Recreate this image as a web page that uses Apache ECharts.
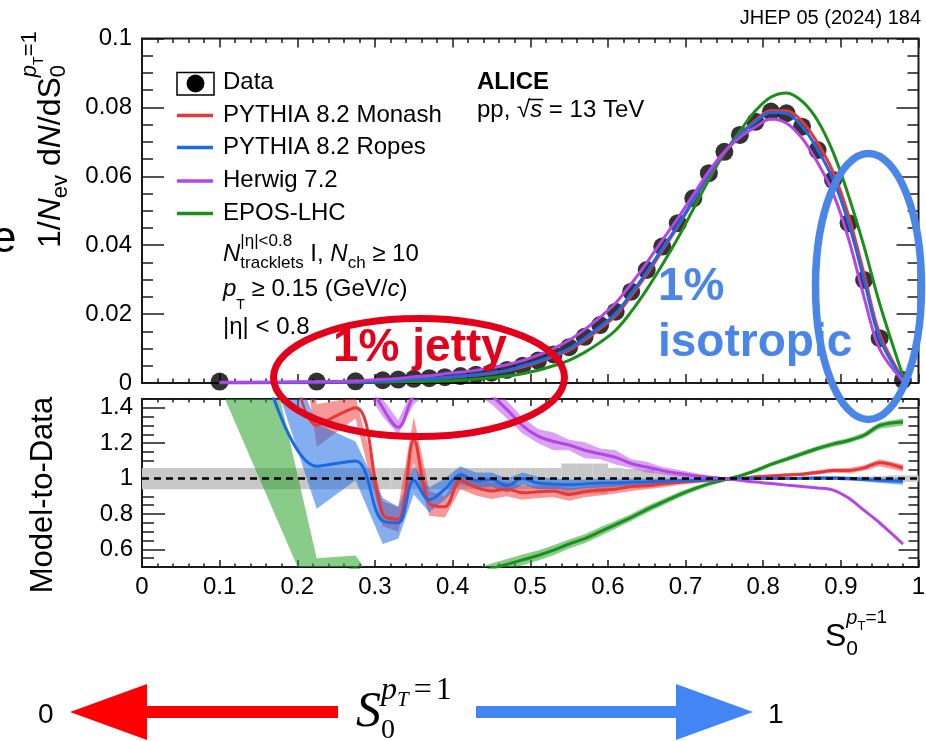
<!DOCTYPE html>
<html>
<head>
<meta charset="utf-8">
<script src="https://cdn.jsdelivr.net/npm/echarts@6/dist/echarts.min.js"></script>
<style>
  html, body { margin: 0; padding: 0; background: #fff; }
  #chart { width: 926px; height: 741px; }
</style>
</head>
<body>
<div id="chart"></div>
<script>
// ---- S0 binning ----
const S0 = [0.1, 0.225, 0.275, 0.31, 0.33, 0.35, 0.37, 0.39, 0.41, 0.43, 0.45, 0.47, 0.49, 0.51, 0.53, 0.55,
  0.57, 0.59, 0.61, 0.63, 0.65, 0.67, 0.69, 0.71, 0.73, 0.75, 0.77, 0.79, 0.81, 0.83, 0.85, 0.87, 0.89,
  0.91, 0.93, 0.95, 0.98];
const binEdges = [0, 0.2, 0.25, 0.3, 0.32, 0.34, 0.36, 0.38, 0.40, 0.42, 0.44, 0.46, 0.48, 0.50, 0.52, 0.54,
  0.56, 0.58, 0.60, 0.62, 0.64, 0.66, 0.68, 0.70, 0.72, 0.74, 0.76, 0.78, 0.80, 0.82, 0.84, 0.86, 0.88,
  0.90, 0.92, 0.94, 0.96, 1.0];

// ---- upper panel: 1/Nev dN/dS0 ----
const dataY = [0.0004, 0.0004, 0.0005, 0.0008, 0.0010, 0.0012, 0.0014, 0.0017, 0.0020, 0.0024, 0.0030, 0.0038,
  0.0050, 0.0065, 0.0083, 0.0104, 0.0134, 0.0168, 0.0207, 0.0265, 0.0328, 0.0396, 0.0464, 0.0536, 0.0609,
  0.0671, 0.0720, 0.0758, 0.0788, 0.0783, 0.0744, 0.0676, 0.0589, 0.0464, 0.0299, 0.0130, 0.0009];
const monashY = [0.0001, 0.0002, 0.0003, 0.0006, 0.0008, 0.0012, 0.0013, 0.0015, 0.0019, 0.0023, 0.0028, 0.0036,
  0.0046, 0.0060, 0.0077, 0.0095, 0.0124, 0.0158, 0.0195, 0.0253, 0.0315, 0.0384, 0.0454, 0.0528, 0.0603,
  0.0668, 0.0720, 0.0762, 0.0791, 0.0790, 0.0760, 0.0697, 0.0612, 0.0485, 0.0316, 0.0142, 0.0010];
const ropesY = [0.0001, 0.0002, 0.0003, 0.0006, 0.0008, 0.0012, 0.0012, 0.0016, 0.0020, 0.0024, 0.0030, 0.0036,
  0.0050, 0.0063, 0.0080, 0.0100, 0.0130, 0.0164, 0.0202, 0.0260, 0.0322, 0.0390, 0.0458, 0.0531, 0.0606,
  0.0670, 0.0720, 0.0758, 0.0785, 0.0782, 0.0745, 0.0678, 0.0591, 0.0464, 0.0298, 0.0129, 0.0009];
const herwigY = [0.0002, 0.0004, 0.0006, 0.0011, 0.0013, 0.0018, 0.0021, 0.0027, 0.0031, 0.0037, 0.0044, 0.0053,
  0.0065, 0.0081, 0.0100, 0.0124, 0.0155, 0.0191, 0.0232, 0.0288, 0.0349, 0.0414, 0.0478, 0.0546, 0.0614,
  0.0671, 0.0713, 0.0743, 0.0766, 0.0754, 0.0711, 0.0640, 0.0551, 0.0418, 0.0248, 0.0098, 0.0006];
const eposY = [0.0001, 0.0001, 0.0002, 0.0002, 0.0003, 0.0004, 0.0005, 0.0006, 0.0008, 0.0011, 0.0015, 0.0020,
  0.0027, 0.0037, 0.0050, 0.0066, 0.0089, 0.0118, 0.0153, 0.0207, 0.0271, 0.0343, 0.0420, 0.0505, 0.0590,
  0.0667, 0.0731, 0.0790, 0.0830, 0.0842, 0.0818, 0.0762, 0.0670, 0.0543, 0.0395, 0.0230, 0.0020];

// ---- lower panel: model / data ratios and their uncertainty half-widths ----
const dataRelErr = [0.06, 0.06, 0.06, 0.06, 0.06, 0.06, 0.06, 0.06, 0.06, 0.06, 0.06, 0.06, 0.06, 0.06, 0.06,
  0.085, 0.085, 0.085, 0.06, 0.055, 0.05, 0.035, 0.025, 0.018, 0.012, 0.008, 0.006, 0.007, 0.008, 0.008,
  0.008, 0.008, 0.008, 0.01, 0.012, 0.014, 0.018];
const monashRatio = [5.5, 1.30, 1.40, 0.80, 0.77, 1.22, 0.86, 0.84, 0.99, 0.95, 0.93, 0.94, 0.92, 0.925, 0.93,
  0.91, 0.925, 0.935, 0.94, 0.955, 0.96, 0.97, 0.978, 0.985, 0.99, 0.996, 1.0, 1.01, 1.015, 1.02, 1.025,
  1.035, 1.045, 1.045, 1.06, 1.09, 1.06];
const monashErr = [0.5, 0.12, 0.06, 0.07, 0.07, 0.13, 0.07, 0.06, 0.05, 0.045, 0.045, 0.04, 0.04, 0.035, 0.035,
  0.035, 0.03, 0.03, 0.025, 0.025, 0.02, 0.02, 0.015, 0.012, 0.01, 0.008, 0.006, 0.008, 0.008, 0.01, 0.01,
  0.012, 0.012, 0.015, 0.015, 0.02, 0.02];
const ropesRatio = [2.6, 1.07, 1.10, 0.76, 0.75, 0.99, 0.88, 0.94, 1.02, 0.99, 0.995, 0.96, 1.0, 0.975, 0.97,
  0.965, 0.97, 0.975, 0.975, 0.98, 0.982, 0.985, 0.988, 0.99, 0.995, 0.998, 1.0, 1.0, 1.0, 1.0, 1.002,
  1.003, 1.003, 1.0, 0.995, 0.99, 0.985];
const ropesErr = [0.1, 0.24, 0.11, 0.13, 0.09, 0.08, 0.07, 0.06, 0.05, 0.045, 0.04, 0.04, 0.035, 0.035, 0.03,
  0.03, 0.025, 0.025, 0.02, 0.02, 0.018, 0.015, 0.013, 0.011, 0.009, 0.007, 0.006, 0.007, 0.008, 0.008,
  0.009, 0.01, 0.01, 0.011, 0.012, 0.015, 0.02];
const herwigRatio = [4.0, 2.5, 1.7, 1.40, 1.29, 1.47, 1.54, 1.56, 1.55, 1.53, 1.47, 1.39, 1.30, 1.24, 1.21,
  1.19, 1.16, 1.14, 1.12, 1.085, 1.065, 1.045, 1.03, 1.018, 1.008, 1.0, 0.99, 0.98, 0.972, 0.963, 0.955,
  0.947, 0.935, 0.89, 0.82, 0.75, 0.63];
const herwigErr = [0.3, 0.2, 0.1, 0.05, 0.04, 0.05, 0.05, 0.05, 0.05, 0.05, 0.05, 0.05, 0.045, 0.04, 0.05,
  0.03, 0.045, 0.03, 0.04, 0.025, 0.03, 0.02, 0.02, 0.015, 0.01, 0.006, 0.005, 0.005, 0.005, 0.005, 0.005,
  0.005, 0.005, 0.005, 0.006, 0.007, 0.008];
const eposRatio = [2.23, 0.40, 0.49, 0.30, 0.28, 0.30, 0.33, 0.37, 0.41, 0.455, 0.49, 0.515, 0.54, 0.565, 0.595,
  0.63, 0.66, 0.70, 0.74, 0.78, 0.825, 0.865, 0.905, 0.94, 0.97, 0.993, 1.015, 1.045, 1.08, 1.11, 1.14,
  1.17, 1.195, 1.215, 1.245, 1.30, 1.32];
const eposErr = [0.71, 0.15, 0.075, 0.05, 0.05, 0.05, 0.05, 0.05, 0.04, 0.035, 0.03, 0.03, 0.03, 0.028, 0.028,
  0.025, 0.025, 0.025, 0.022, 0.02, 0.02, 0.018, 0.016, 0.014, 0.012, 0.01, 0.01, 0.012, 0.012, 0.013,
  0.014, 0.014, 0.015, 0.015, 0.016, 0.018, 0.02];

// ---- axes ----
const xTickStep = 0.1;
const yTopRange = [0, 0.1];
const yTopStep = 0.02;
const ratioRange = [0.5, 1.45];
const ratioLabels = [0.6, 0.8, 1, 1.2, 1.4];
const ratioMinorStep = 0.05;
const unity = 1;

const SANS = 'Liberation Sans';
const SERIF = 'Liberation Serif';
const INK = '#1a1a1a';
const C = {
  monash: '#ee3535', ropes: '#1a6ae6', herwig: '#b545e6', epos: '#1a8f1a',
  monashBand: 'rgba(238,50,50,0.5)', ropesBand: 'rgba(30,110,230,0.55)',
  herwigBand: 'rgba(180,70,230,0.5)', eposBand: 'rgba(40,160,40,0.55)', dataBand: '#c8c8c8'
};

const pairs = ys => S0.map((x, i) => [x, ys[i]]);

function modelLine(ys, color, xi, yi, from) {
  return {
    type: 'line', xAxisIndex: xi, yAxisIndex: yi, data: pairs(ys).slice(from || 0),
    smooth: 0.35, symbol: 'none', silent: true,
    lineStyle: { color, width: 3 }
  };
}

function band(center, err, fill) {
  return {
    type: 'custom', xAxisIndex: 2, yAxisIndex: 2, clip: true, silent: true,
    data: S0.map((x, i) => [x, center[i] - err[i], center[i] + err[i]]),
    encode: { x: 0, y: [1, 2] },
    renderItem(params, api) {
      if (params.dataIndex !== 0) return null;
      const upper = S0.map((x, i) => api.coord([x, center[i] + err[i]]));
      const lower = S0.map((x, i) => api.coord([x, center[i] - err[i]])).reverse();
      const cs = params.coordSys;
      return {
        type: 'polygon', shape: { points: upper.concat(lower) }, style: { fill },
        clipPath: { type: 'rect', shape: { x: cs.x, y: cs.y, width: cs.width, height: cs.height } }
      };
    }
  };
}

const dataBand = {
  type: 'custom', xAxisIndex: 2, yAxisIndex: 2, silent: true,
  data: S0.map((x, i) => [binEdges[i], binEdges[i + 1], unity - dataRelErr[i], unity + dataRelErr[i]]),
  encode: { x: [0, 1], y: [2, 3] },
  renderItem(params, api) {
    const a = api.coord([api.value(0), api.value(3)]);
    const b = api.coord([api.value(1), api.value(2)]);
    return { type: 'rect', shape: { x: a[0], y: a[1], width: b[0] - a[0], height: b[1] - a[1] },
      style: { fill: C.dataBand } };
  }
};

// ---- text helpers (runs of pieces with sub/superscripts) ----
const mctx = document.createElement('canvas').getContext('2d');
function fontOf(p) {
  return (p.italic ? 'italic ' : '') + (p.bold ? 'bold ' : '') + p.size + 'px "' + (p.family || SANS) + '"';
}
function layoutRun(pieces, fill) {
  let cursor = 0, mark = 0, maxEnd = 0;
  const els = [], starts = [];
  for (const p of pieces) {
    if (p.restart) cursor = mark;
    if (p.after) cursor = maxEnd;
    cursor += (p.dx || 0);
    if (p.mark) mark = cursor;
    const font = fontOf(p);
    mctx.font = font;
    const w = mctx.measureText(p.t).width;
    starts.push(cursor);
    els.push({
      type: 'text', x: cursor, y: (p.dy || 0) - 0.31 * p.size, z: 100,
      style: { text: p.t, font, fill: p.fill || fill, align: 'left', verticalAlign: 'middle',
        textAlign: 'left', textVerticalAlign: 'middle' }
    });
    cursor += w;
    maxEnd = Math.max(maxEnd, cursor);
  }
  return { els, starts, width: maxEnd };
}
const graphics = [];
function add(el) { el.z = 100; graphics.push(el); return el; }
function addRun(x, y, pieces, opts) {
  opts = opts || {};
  const r = layoutRun(pieces, opts.fill || '#000');
  const shift = opts.anchor === 'center' ? -r.width / 2 : opts.anchor === 'right' ? -r.width : 0;
  r.els.forEach(e => { e.x += shift; });
  add({ type: 'group', x, y, rotation: opts.rotation || 0, children: r.els });
  r.shift = shift;
  return r;
}

// ---- legend ----
add({ type: 'rect', shape: { x: 177, y: 72.5, width: 37, height: 22.5 }, style: { fill: 'none', stroke: '#000', lineWidth: 1.5 } });
add({ type: 'circle', shape: { cx: 195.5, cy: 83.5, r: 9 }, style: { fill: '#000' } });
[[C.monash, 115.5], [C.ropes, 147.5], [C.herwig, 181], [C.epos, 213.5]].forEach(([c, y]) => {
  add({ type: 'line', shape: { x1: 177, y1: y, x2: 213, y2: y }, style: { stroke: c, lineWidth: 3.5 } });
});
addRun(223, 90, [{ t: 'Data', size: 24 }]);
addRun(223, 123, [{ t: 'PYTHIA 8.2 Monash', size: 24 }]);
addRun(223, 155, [{ t: 'PYTHIA 8.2 Ropes', size: 24 }]);
addRun(223, 188, [{ t: 'Herwig 7.2', size: 24 }]);
addRun(223, 221, [{ t: 'EPOS-LHC', size: 24 }]);
addRun(223, 262, [
  { t: 'N', size: 24, italic: true },
  { t: '|η|<0.8', size: 17, dy: -15, mark: true },
  { t: 'tracklets', size: 17, dy: 7, restart: true },
  { t: ' I, ', size: 24, after: true },
  { t: 'N', size: 24, italic: true },
  { t: 'ch', size: 17, dy: 7 },
  { t: ' ≥ 10', size: 24 }
]);
addRun(223, 297, [
  { t: 'p', size: 24, italic: true }, { t: 'T', size: 14, dy: 12 },
  { t: ' ≥ 0.15 (GeV/', size: 24 }, { t: 'c', size: 24, italic: true }, { t: ')', size: 24 }
]);
addRun(223, 335, [{ t: '|η| < 0.8', size: 24 }]);

addRun(477, 90, [{ t: 'ALICE', size: 24, bold: true }]);
const ppRun = addRun(477, 118, [
  { t: 'pp, ', size: 24 }, { t: '√', size: 24 }, { t: 's', size: 24, italic: true }, { t: ' = 13 TeV', size: 24 }
]);
add({ type: 'line', shape: { x1: 477 + ppRun.starts[2] - 1, y1: 99.5, x2: 477 + ppRun.starts[3] + 1, y2: 99.5 },
  style: { stroke: '#000', lineWidth: 1.5 } });

// journal reference
addRun(921, 25, [{ t: 'JHEP 05 (2024) 184', size: 20 }], { anchor: 'right' });

// truncated slide text at the left edge
addRun(-8, 253, [{ t: 'e', size: 44 }]);

// axis titles
addRun(61, 248, [
  { t: '1/', size: 32 }, { t: 'N', size: 32, italic: true }, { t: 'ev', size: 22, dy: 7 },
  { t: ' d', size: 32 }, { t: 'N', size: 32, italic: true }, { t: '/d', size: 32 }, { t: 'S', size: 32 },
  { t: '0', size: 22, dy: 5, mark: true },
  { t: 'p', size: 22, italic: true, dy: -24, restart: true }, { t: 'T', size: 14, dy: -18 }, { t: '=1', size: 22, dy: -24 }
], { rotation: Math.PI / 2 });
addRun(53, 495, [{ t: 'Model-to-Data', size: 31 }], { rotation: Math.PI / 2, anchor: 'center' });
addRun(825, 647, [
  { t: 'S', size: 32 }, { t: '0', size: 21, dy: 9, mark: true },
  { t: 'p', size: 20, italic: true, dy: -22, restart: true }, { t: 'T', size: 13, dy: -17 }, { t: '=1', size: 19, dy: -23 }
]);

// annotations
add({ type: 'ellipse', shape: { cx: 419, cy: 377.5, rx: 145.5, ry: 59 }, style: { fill: 'none', stroke: '#e3001b', lineWidth: 7 } });
addRun(333, 363, [{ t: '1% jetty', size: 46, bold: true }], { fill: '#e3001b' });
add({ type: 'ellipse', shape: { cx: 868.5, cy: 286.5, rx: 53, ry: 133 }, style: { fill: 'none', stroke: '#4a86e8', lineWidth: 7.5 } });
addRun(658, 302, [{ t: '1%', size: 46, bold: true }], { fill: '#4a86e8' });
addRun(658, 358, [{ t: 'isotropic', size: 46, bold: true }], { fill: '#4a86e8' });

// S0 direction arrows
add({ type: 'polygon', shape: { points: [[70, 712], [147, 684], [147, 706], [338, 706], [338, 718], [147, 718], [147, 740]] },
  style: { fill: '#ff0000' } });
add({ type: 'polygon', shape: { points: [[753, 712], [676, 684], [676, 706], [476, 706], [476, 718], [676, 718], [676, 740]] },
  style: { fill: '#4285f4' } });
addRun(38, 724, [{ t: '0', size: 28 }]);
addRun(768, 724, [{ t: '1', size: 28 }]);
addRun(356, 728, [
  { t: 'S', size: 50, italic: true, family: SERIF },
  { t: '0', size: 28, family: SERIF, dy: 11, mark: true },
  { t: 'p', size: 32, italic: true, family: SERIF, dy: -27, restart: true },
  { t: 'T', size: 21, italic: true, family: SERIF, dy: -21 },
  { t: '=', size: 32, family: SERIF, dy: -27, dx: 5 },
  { t: '1', size: 32, family: SERIF, dy: -27, dx: 4 }
]);

// ---- axis definitions ----
const tickLine = { color: INK, width: 1.5 };
const noLine = { show: false, onZero: false };
function xAx(grid, pos, labels, major, minor) {
  return {
    type: 'value', gridIndex: grid, position: pos, min: 0, max: 1, interval: xTickStep,
    axisLine: noLine, splitLine: { show: false },
    axisLabel: labels ? { show: true, fontFamily: SANS, fontSize: 24, color: '#000', margin: 8 } : { show: false },
    axisTick: { show: true, inside: true, length: major, lineStyle: tickLine },
    minorTick: { show: true, splitNumber: 5, length: minor, lineStyle: tickLine }
  };
}
const yLabelStyle = { show: true, fontFamily: SANS, fontSize: 24, color: '#000', margin: 10 };
function yTop(pos, labels) {
  return {
    type: 'value', gridIndex: 0, position: pos, min: yTopRange[0], max: yTopRange[1], interval: yTopStep,
    axisLine: noLine, splitLine: { show: false },
    axisLabel: labels ? yLabelStyle : { show: false },
    axisTick: { show: true, inside: true, length: 22, lineStyle: tickLine },
    minorTick: { show: true, splitNumber: 4, length: 11, lineStyle: tickLine }
  };
}
function yRatioMajor(pos, labels, len) {
  return {
    type: 'value', gridIndex: 1, position: pos, min: ratioRange[0], max: ratioRange[1],
    axisLine: noLine, splitLine: { show: false },
    axisLabel: labels ? Object.assign({ customValues: ratioLabels }, yLabelStyle, { margin: 9 }) : { show: false },
    axisTick: { show: true, inside: true, length: len, customValues: ratioLabels, lineStyle: tickLine }
  };
}
function yRatioMinor(pos, len) {
  return {
    type: 'value', gridIndex: 1, position: pos, min: ratioRange[0], max: ratioRange[1], interval: ratioMinorStep,
    axisLine: noLine, splitLine: { show: false }, axisLabel: { show: false },
    axisTick: { show: true, inside: true, length: len, lineStyle: tickLine }
  };
}

const option = {
  animation: false,
  backgroundColor: '#fff',
  grid: [
    { left: 142, top: 38.5, width: 776.5, height: 344.5, show: true, borderColor: INK, borderWidth: 2,
      backgroundColor: 'transparent', containLabel: false, outerBoundsMode: 'none' },
    { left: 142, top: 399, width: 776.5, height: 168, show: true, borderColor: INK, borderWidth: 2,
      backgroundColor: 'transparent', containLabel: false, outerBoundsMode: 'none' }
  ],
  xAxis: [
    xAx(0, 'bottom', false, 9, 4.5), xAx(0, 'top', false, 9, 4.5),
    xAx(1, 'bottom', true, 7, 3.5), xAx(1, 'top', false, 7, 3.5)
  ],
  yAxis: [
    yTop('left', true), yTop('right', false),
    yRatioMajor('left', true, 23), yRatioMinor('left', 12),
    yRatioMajor('right', false, 20), yRatioMinor('right', 10)
  ],
  series: [
    // upper panel
    { type: 'scatter', xAxisIndex: 0, yAxisIndex: 0, data: pairs(dataY), symbol: 'circle', symbolSize: 18,
      itemStyle: { color: '#000' }, silent: true },
    modelLine(eposY, C.epos, 0, 0),
    modelLine(monashY, C.monash, 0, 0),
    modelLine(ropesY, C.ropes, 0, 0),
    modelLine(herwigY, C.herwig, 0, 0),
    // lower panel
    dataBand,
    band(eposRatio, eposErr, C.eposBand),
    modelLine(eposRatio, C.epos, 2, 2, 1),
    band(monashRatio, monashErr, C.monashBand),
    modelLine(monashRatio, C.monash, 2, 2),
    band(ropesRatio, ropesErr, C.ropesBand),
    modelLine(ropesRatio, C.ropes, 2, 2),
    band(herwigRatio, herwigErr, C.herwigBand),
    modelLine(herwigRatio, C.herwig, 2, 2),
    { type: 'line', xAxisIndex: 2, yAxisIndex: 2, data: [[0, unity], [1, unity]], symbol: 'none', silent: true, z: 5,
      lineStyle: { color: '#000', width: 2.5, type: [7, 5] } }
  ],
  graphic: { elements: graphics }
};

const chart = echarts.init(document.getElementById('chart'), null, { renderer: 'canvas' });
chart.setOption(option);
</script>
</body>
</html>
